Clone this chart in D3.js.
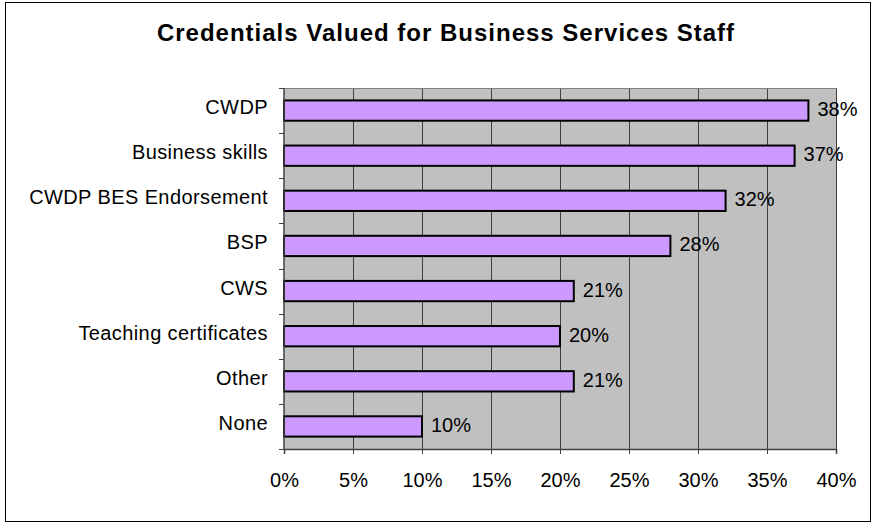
<!DOCTYPE html>
<html>
<head>
<meta charset="utf-8">
<script src="https://cdn.jsdelivr.net/npm/d3@7"></script>
<style>
  html, body { margin: 0; padding: 0; background: #fff; }
  svg { display: block; font-family: Arial, "Liberation Sans", sans-serif; }
</style>
</head>
<body>
<svg id="chart" width="878" height="523"></svg>
<script>
// Share of respondents valuing each credential
const categories = ["CWDP", "Business skills", "CWDP BES Endorsement", "BSP", "CWS", "Teaching certificates", "Other", "None"];
const values = [38, 37, 32, 28, 21, 20, 21, 10];
const tickValues = [0, 5, 10, 15, 20, 25, 30, 35, 40];
const title = "Credentials Valued for Business Services Staff";

const svg = d3.select("#chart");
const plot = { left: 284, top: 88, right: 836, bottom: 449 };

// outer frame
svg.append("rect")
  .attr("x", 5.5).attr("y", 2.5)
  .attr("width", 865).attr("height", 519)
  .attr("fill", "#fff").attr("stroke", "#000").attr("stroke-width", 1);

svg.append("text")
  .attr("x", 446).attr("y", 41)
  .attr("text-anchor", "middle")
  .attr("font-size", 24).attr("font-weight", "bold")
  .attr("letter-spacing", "1px")
  .attr("fill", "#000")
  .text(title);

const x = d3.scaleLinear().domain([0, 40]).range([plot.left, plot.right]);
const y = d3.scaleBand().domain(categories).range([plot.top, plot.bottom]).paddingInner(0.55).paddingOuter(0.275);
const yb = d3.scaleBand().domain(categories).range([plot.top, plot.bottom]);

// plot background
svg.append("rect")
  .attr("x", plot.left).attr("y", plot.top)
  .attr("width", plot.right - plot.left).attr("height", plot.bottom - plot.top)
  .attr("fill", "#C0C0C0");

// vertical gridlines
svg.append("g").selectAll("line")
  .data(tickValues.slice(1))
  .join("line")
  .attr("x1", d => Math.round(x(d)) + 0.5).attr("x2", d => Math.round(x(d)) + 0.5)
  .attr("y1", plot.top).attr("y2", plot.bottom)
  .attr("stroke", "#404040").attr("stroke-width", 1);

// top border of plot area
svg.append("line")
  .attr("x1", plot.left).attr("x2", plot.right + 1)
  .attr("y1", plot.top + 0.5).attr("y2", plot.top + 0.5)
  .attr("stroke", "#808080");

// bars
svg.append("g").selectAll("rect")
  .data(values)
  .join("rect")
  .attr("x", x(0))
  .attr("y", (d, i) => y(categories[i]))
  .attr("width", d => x(d) - x(0))
  .attr("height", y.bandwidth())
  .attr("fill", "#CC99FF")
  .attr("stroke", "#000")
  .attr("stroke-width", 2);

// value labels
svg.append("g").selectAll("text")
  .data(values)
  .join("text")
  .attr("x", d => x(d) + 9)
  .attr("y", (d, i) => y(categories[i]) + y.bandwidth() / 2 + 5.5)
  .attr("font-size", 20)
  .attr("fill", "#000")
  .text(d => d + "%");

// x axis
const xAxis = svg.append("g")
  .attr("transform", `translate(0,${plot.bottom})`)
  .call(d3.axisBottom(x).tickValues(tickValues).tickFormat(d => d + "%").tickSize(5).tickPadding(19));
xAxis.select(".domain").attr("stroke", "#404040").attr("stroke-width", 1.5);
xAxis.selectAll(".tick line").attr("stroke", "#404040");
xAxis.selectAll(".tick text").attr("font-size", 20).attr("fill", "#000").attr("font-family", "Arial, 'Liberation Sans', sans-serif");

// y axis: line + ticks at band boundaries
const yAxis = svg.append("g");
yAxis.append("line")
  .attr("x1", plot.left).attr("x2", plot.left)
  .attr("y1", plot.top).attr("y2", plot.bottom + 1)
  .attr("stroke", "#404040").attr("stroke-width", 1.5);
yAxis.selectAll(".btick")
  .data(categories.map(c => yb(c)).concat([plot.bottom]))
  .join("line")
  .attr("class", "btick")
  .attr("x1", plot.left - 5).attr("x2", plot.left)
  .attr("y1", d => Math.round(d) + 0.5).attr("y2", d => Math.round(d) + 0.5)
  .attr("stroke", "#404040");
yAxis.selectAll("text")
  .data(categories)
  .join("text")
  .attr("x", plot.left - 16)
  .attr("y", d => y(d) + y.bandwidth() / 2 + 3.5)
  .attr("text-anchor", "end")
  .attr("font-size", 20)
  .attr("letter-spacing", "0.4px")
  .attr("fill", "#000")
  .text(d => d);
</script>
</body>
</html>
